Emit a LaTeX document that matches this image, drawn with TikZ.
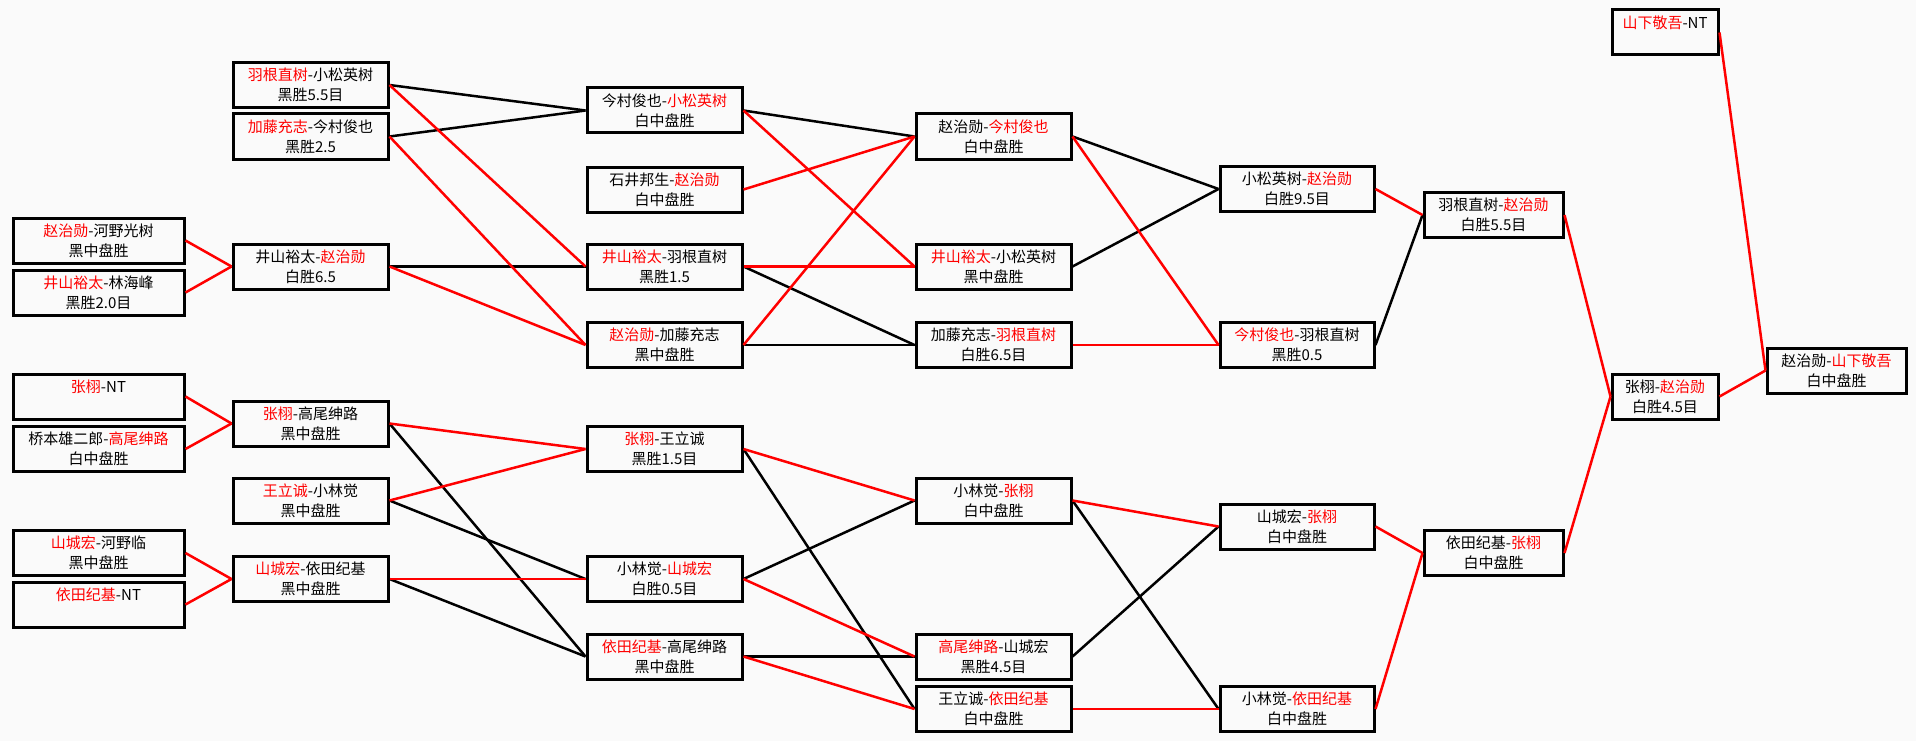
\documentclass[tikz,border=0pt]{standalone}
\usepackage{fontspec}
\setmainfont{Noto Sans CJK SC}
\usepackage{xcolor}
\newcommand{\win}[1]{\textcolor{red}{#1}}

\begin{document}
\begin{tikzpicture}[
    x=1pt,y=-1pt,
    g/.style={draw=black,line width=3pt,minimum width=155pt,minimum height=45pt,inner sep=0pt,align=center,font=\fontsize{15}{20}\selectfont},
    el/.style={line width=2.5pt,black},
    ew/.style={line width=2.5pt,red}
  ]
    \useasboundingbox (0,0) rectangle (1916,741);
    \fill[black!2] (0,0) rectangle (1916,741);
    % first round
    \node[g,minimum width=171pt] (l1) at (98.5,240.5) {\win{赵治勋}-河野光树\\黑中盘胜};
    \node[g,minimum width=171pt] (l2) at (98.5,292.5) {\win{井山裕太}-林海峰\\黑胜2.0目};
    \node[g,minimum width=171pt] (l3) at (98.5,396.5) {\win{张栩}-NT\\\phantom{黑}};
    \node[g,minimum width=171pt] (l4) at (98.5,449) {桥本雄二郎-\win{高尾绅路}\\白中盘胜};
    \node[g,minimum width=171pt] (l5) at (98.5,553) {\win{山城宏}-河野临\\黑中盘胜};
    \node[g,minimum width=171pt] (l6) at (98.5,604.5) {\win{依田纪基}-NT\\\phantom{黑}};
    % second column
    \node[g] (a1) at (310.5,85) {\win{羽根直树}-小松英树\\黑胜5.5目}; \node[g] (a2) at (310.5,136.5) {\win{加藤充志}-今村俊也\\黑胜2.5};
    \node[g] (a3) at (310.5,266.5) {井山裕太-\win{赵治勋}\\白胜6.5}; \node[g] (a4) at (310.5,423.5) {\win{张栩}-高尾绅路\\黑中盘胜};
    \node[g] (a5) at (310.5,500.5) {\win{王立诚}-小林觉\\黑中盘胜}; \node[g] (a6) at (310.5,579) {\win{山城宏}-依田纪基\\黑中盘胜};
    % third column
    \node[g] (b1) at (664.5,110.5) {今村俊也-\win{小松英树}\\白中盘胜}; \node[g] (b2) at (664.5,189.5) {石井邦生-\win{赵治勋}\\白中盘胜};
    \node[g] (b3) at (664.5,266.5) {\win{井山裕太}-羽根直树\\黑胜1.5}; \node[g] (b4) at (664.5,345) {\win{赵治勋}-加藤充志\\黑中盘胜};
    \node[g] (b5) at (664.5,449) {\win{张栩}-王立诚\\黑胜1.5目}; \node[g] (b6) at (664.5,579) {小林觉-\win{山城宏}\\白胜0.5目};
    \node[g] (b7) at (664.5,656.5) {\win{依田纪基}-高尾绅路\\黑中盘胜};
    % fourth column
    \node[g] (c1) at (993.5,136.5) {赵治勋-\win{今村俊也}\\白中盘胜}; \node[g] (c2) at (993.5,266.5) {\win{井山裕太}-小松英树\\黑中盘胜};
    \node[g] (c3) at (993.5,345) {加藤充志-\win{羽根直树}\\白胜6.5目}; \node[g] (c4) at (993.5,500.5) {小林觉-\win{张栩}\\白中盘胜};
    \node[g] (c5) at (993.5,656.5) {\win{高尾绅路}-山城宏\\黑胜4.5目}; \node[g] (c6) at (993.5,709) {王立诚-\win{依田纪基}\\白中盘胜};
    % fifth column
    \node[g,minimum width=154pt] (d1) at (1297,189) {小松英树-\win{赵治勋}\\白胜9.5目}; \node[g,minimum width=154pt] (d2) at (1297,345) {\win{今村俊也}-羽根直树\\黑胜0.5};
    \node[g,minimum width=154pt] (d3) at (1297,526.5) {山城宏-\win{张栩}\\白中盘胜}; \node[g,minimum width=154pt] (d4) at (1297,709) {小林觉-\win{依田纪基}\\白中盘胜};
    % final rounds
    \node[g,minimum width=139pt] (e1) at (1493.5,215) {羽根直树-\win{赵治勋}\\白胜5.5目}; \node[g,minimum width=139pt] (e2) at (1493.5,553) {依田纪基-\win{张栩}\\白中盘胜};
    \node[g,minimum width=106pt] (f1) at (1665,32.5) {\win{山下敬吾}-NT\\\phantom{黑}}; \node[g,minimum width=106pt] (f2) at (1665,396.5) {张栩-\win{赵治勋}\\白胜4.5目};
    \node[g,minimum width=139pt] (g1) at (1836.5,370.5) {赵治勋-\win{山下敬吾}\\白中盘胜};
    \foreach \s/\t in {a1/b1,a2/b1,a3/b3,a4/b7,a5/b6,a6/b7,b1/c1,b3/c3,b4/c3,b5/c6,b6/c4,b7/c5,c1/d1,c2/d1,c4/d4,c5/d3,d2/e1} {\draw[el] (\s.east)--(\t.west);}
    \foreach \s/\t in {l1/a3,l2/a3,l3/a4,l4/a4,l5/a6,l6/a6,a1/b3,a2/b4,a3/b4,a4/b5,a5/b5,a6/b6,b1/c2,b2/c1,b3/c2,b4/c1,b5/c4,b6/c5,b7/c6,c1/d2,c3/d2,c4/d3,c6/d4,d1/e1,d3/e2,d4/e2,e1/f2,e2/f2,f1/g1,f2/g1} {\draw[ew] (\s.east)--(\t.west);}
  \end{tikzpicture}
\end{document}
